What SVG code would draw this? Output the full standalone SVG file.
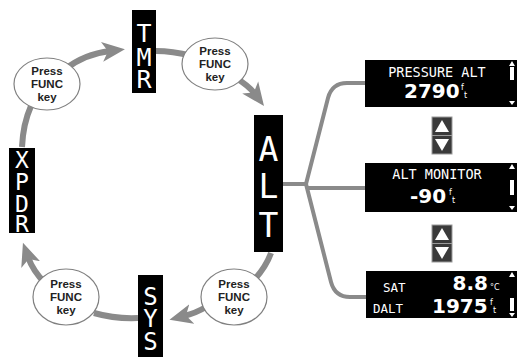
<svg xmlns="http://www.w3.org/2000/svg" width="517" height="357" viewBox="0 0 517 357">
<style>
.arc{fill:none;stroke:#8a8a8a;stroke-width:6;stroke-linecap:butt}
.br{fill:none;stroke:#8a8a8a;stroke-width:4;stroke-linejoin:round}
.bub{fill:#fff;stroke:#808080;stroke-width:1.2}
.bt{font-family:"Liberation Sans",Arial,sans-serif;font-weight:bold;font-size:11.5px;fill:#222;text-anchor:middle}
.blk{fill:#000}
.vl{font-family:"DejaVu Sans Mono",monospace;fill:#fff;text-anchor:middle}
.lcd{font-family:"DejaVu Sans Mono",monospace;fill:#fff}
.big{font-family:"DejaVu Sans","Liberation Sans",sans-serif;font-weight:bold;fill:#fff}
.ft{font-family:"DejaVu Sans",sans-serif;fill:#fff;font-size:8px}
.btn{fill:#3a3a3a;stroke:#9a9a9a;stroke-width:1}
.tri{fill:#fff}
.sc{fill:#fff}
</style>
<defs>
<marker id="ah" markerUnits="userSpaceOnUse" markerWidth="24" markerHeight="22" refX="8" refY="10" orient="auto" viewBox="0 0 24 20">
<path d="M0,0 L23,10 L0,20 L6,10 Z" fill="#8a8a8a"/>
</marker>
</defs>
<g id="connectors">
<path class="arc" d="M22,147 Q23,124 31,106"/>
<path class="arc" d="M64,70 Q84,54 110,51" marker-end="url(#ah)"/>
<path class="arc" d="M156,51 Q172,51 192,56"/>
<path class="arc" d="M236,78 Q249,86 255,94" marker-end="url(#ah)"/>
<path class="arc" d="M271,253 Q266,267 254,280"/>
<path class="arc" d="M206,307 Q196,313 184,316" marker-end="url(#ah)"/>
<path class="arc" d="M138,318 Q115,319 94,313"/>
<path class="arc" d="M45,283 Q33,271 28,257" marker-end="url(#ah)"/>
<path class="br" d="M283,184 L306,184"/>
<path class="br" d="M306,184 L328,98 Q332,83 347,83 L366,83"/>
<path class="br" d="M306,188 L366,188"/>
<path class="br" d="M306,184 L331,282 Q335,297 350,297 L366,297"/>
</g>
<g id="bubble1">
<ellipse class="bub" cx="47" cy="84" rx="33" ry="26"/>
<text class="bt" x="47" y="75">Press</text>
<text class="bt" x="47" y="88">FUNC</text>
<text class="bt" x="47" y="101">key</text>
</g>
<g id="bubble2">
<ellipse class="bub" cx="215" cy="64" rx="33" ry="26"/>
<text class="bt" x="215" y="55">Press</text>
<text class="bt" x="215" y="68">FUNC</text>
<text class="bt" x="215" y="81">key</text>
</g>
<g id="bubble3">
<ellipse class="bub" cx="234" cy="297" rx="33" ry="28"/>
<text class="bt" x="234" y="288">Press</text>
<text class="bt" x="234" y="301">FUNC</text>
<text class="bt" x="234" y="314">key</text>
</g>
<g id="bubble4">
<ellipse class="bub" cx="66" cy="297" rx="33" ry="28"/>
<text class="bt" x="66" y="288">Press</text>
<text class="bt" x="66" y="301">FUNC</text>
<text class="bt" x="66" y="314">key</text>
</g>
<g id="tmr">
<rect class="blk" x="132" y="10" width="24" height="83"/>
<text class="vl" font-size="25"><tspan x="144" y="42">T</tspan><tspan x="144" y="66">M</tspan><tspan x="144" y="88">R</tspan></text>
</g>
<g id="xpdr">
<rect class="blk" x="9" y="148" width="26" height="85"/>
<text class="vl" font-size="23"><tspan x="22" y="168">X</tspan><tspan x="22" y="190">P</tspan><tspan x="22" y="212">D</tspan><tspan x="22" y="232">R</tspan></text>
</g>
<g id="alt">
<rect class="blk" x="254" y="115" width="29" height="137"/>
<text class="vl" font-size="33"><tspan x="268.5" y="161">A</tspan><tspan x="268.5" y="198">L</tspan><tspan x="268.5" y="237">T</tspan></text>
</g>
<g id="sys">
<rect class="blk" x="138" y="275" width="25" height="82"/>
<text class="vl" font-size="24"><tspan x="150.5" y="305">S</tspan><tspan x="150.5" y="327">Y</tspan><tspan x="150.5" y="350">S</tspan></text>
</g>
<g id="display1">
<rect class="blk" x="365" y="60" width="152" height="47"/>
<text class="lcd" font-size="13.5" x="437" y="77" text-anchor="middle">PRESSURE ALT</text>
<text class="big" font-size="20" x="404" y="98">2790</text>
<text class="ft" x="461" y="90">f</text>
<text class="ft" x="464" y="98">t</text>
<path class="sc" d="M512,61 L515,66 L509,66 Z M510,67 H514 V80 H510 Z M509,101 H515 L512,105 Z"/>
</g>
<g id="updown1">
<rect class="btn" x="432" y="117" width="20" height="37"/>
<line x1="432" y1="135.5" x2="452" y2="135.5" stroke="#9a9a9a" stroke-width="1"/>
<polygon class="tri" points="442,120 449,132 435,132"/>
<polygon class="tri" points="435,139 449,139 442,151"/>
</g>
<g id="display2">
<rect class="blk" x="365" y="163" width="152" height="49"/>
<text class="lcd" font-size="13.5" x="437" y="179" text-anchor="middle">ALT MONITOR</text>
<text class="big" font-size="20" x="410" y="203">-90</text>
<text class="ft" x="449" y="195">f</text>
<text class="ft" x="452" y="203">t</text>
<path class="sc" d="M512,164 L515,169 L509,169 Z M510,180 H514 V195 H510 Z M509,206 H515 L512,210 Z"/>
</g>
<g id="updown2">
<rect class="btn" x="432" y="225" width="20" height="37"/>
<line x1="432" y1="243.5" x2="452" y2="243.5" stroke="#9a9a9a" stroke-width="1"/>
<polygon class="tri" points="442,228 449,240 435,240"/>
<polygon class="tri" points="435,247 449,247 442,259"/>
</g>
<g id="display3">
<rect class="blk" x="366" y="271" width="151" height="47"/>
<text class="lcd" font-size="12.5" x="383" y="292">SAT</text>
<text class="big" font-size="20" x="488" y="290" text-anchor="end">8.8</text>
<text class="ft" x="490" y="290" font-size="9">°C</text>
<text class="lcd" font-size="12.5" x="373" y="313">DALT</text>
<text class="big" font-size="20" x="432" y="313">1975</text>
<text class="ft" x="490" y="305">f</text>
<text class="ft" x="493" y="313">t</text>
<path class="sc" d="M512,272 L515,277 L509,277 Z M510,298 H514 V311 H510 Z M509,313 H515 L512,317 Z"/>
</g>
</svg>
